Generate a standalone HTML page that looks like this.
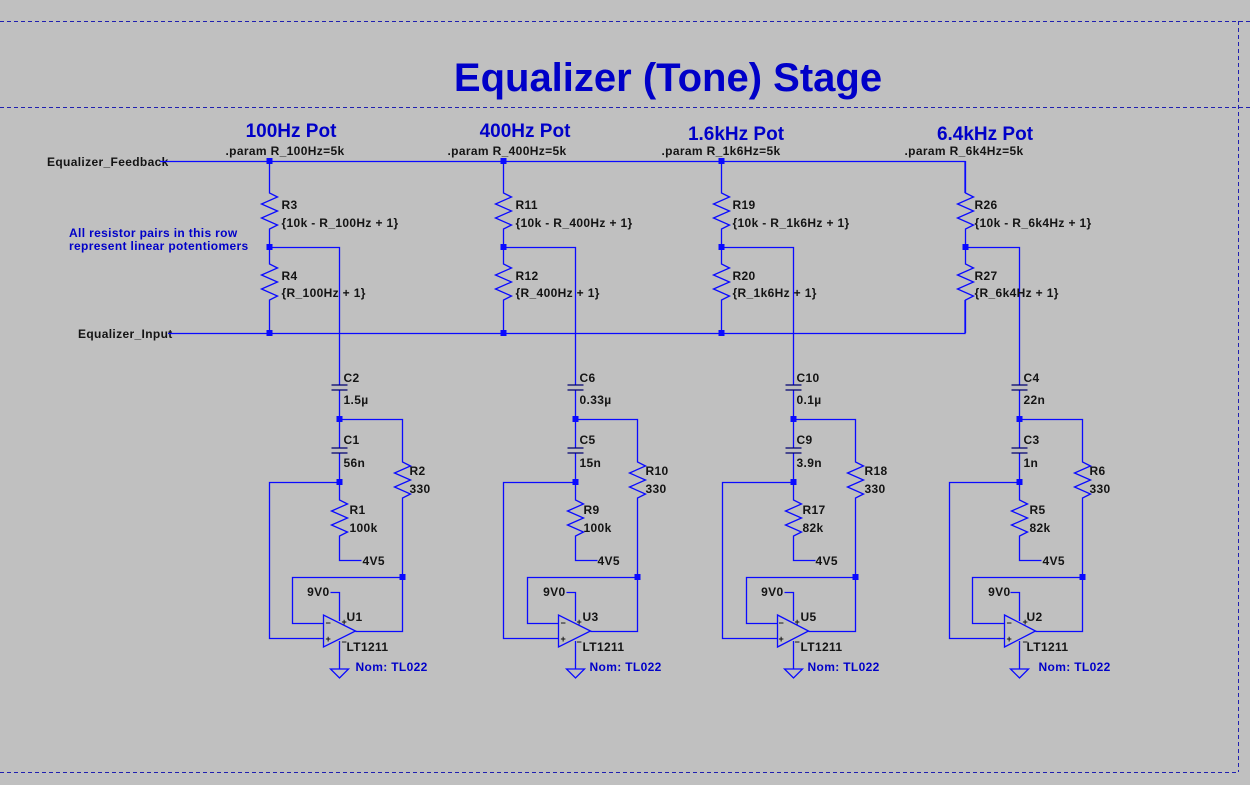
<!DOCTYPE html>
<html><head><meta charset="utf-8"><style>
html,body{margin:0;padding:0;background:#c0c0c0}
svg{display:block}
text{font-family:"Liberation Sans",sans-serif;font-weight:bold;font-size:12px;letter-spacing:0.35px;fill:#141414}
.b{fill:#0000c8}
.w{stroke:#0a0aff;stroke-width:1.3;fill:none}
.d{fill:#0a0aff}
.c{stroke:#000070;stroke-width:1.3;fill:none}
.dash{stroke:#2020b0;stroke-width:1;stroke-dasharray:4,3;fill:none}
.t{font-size:19px;letter-spacing:0}
</style></head><body>
<svg width="1250" height="785" viewBox="0 0 1250 785" xmlns="http://www.w3.org/2000/svg">
<rect width="1250" height="785" fill="#c0c0c0"/>
<path class="dash" d="M0 21.5H1250M0 107.5H1250M1238.5 21V772M0 772.5H1238"/>
<text x="668" y="91" text-anchor="middle" class="b" style="font-size:40px;letter-spacing:0">Equalizer (Tone) Stage</text>
<text x="47" y="166">Equalizer_Feedback</text>
<text x="78" y="338">Equalizer_Input</text>
<text x="69" y="237" class="b">All resistor pairs in this row</text>
<text x="69" y="250" class="b">represent linear potentiomers</text>
<path class="w" d="M160 161.5H965V193M168 333.5H965V300"/>

<text x="291" y="137" text-anchor="middle" class="b t">100Hz Pot</text>
<text x="285" y="155" text-anchor="middle">.param R_100Hz=5k</text>
<text x="525" y="137" text-anchor="middle" class="b t">400Hz Pot</text>
<text x="507" y="155" text-anchor="middle">.param R_400Hz=5k</text>
<text x="736" y="140" text-anchor="middle" class="b t">1.6kHz Pot</text>
<text x="721" y="155" text-anchor="middle">.param R_1k6Hz=5k</text>
<text x="985" y="140" text-anchor="middle" class="b t">6.4kHz Pot</text>
<text x="964" y="155" text-anchor="middle">.param R_6k4Hz=5k</text>

<g transform="translate(339.5,0)">
<path class="w" d="M-70 161V193l8 4-16 7 16 7-16 7 16 7-8 4V264l8 4-16 7 16 7-16 7 16 7-8 4V333M-70 247.5H0V385M0 390V448M0 453V500l8 4-16 7 16 7-16 7 16 7-8 4V560.5H22M0 419.5H63V462l8 4-16 7 16 7-16 7 16 7-8 4V631.5H16M0 482.5H-70V638.5H-16M63 577.5H-47V623.5H-16M-9 592.5H0V621M0 641V669"/>
<path class="c" d="M-8 385H8M-8 390H8M-8 448H8M-8 453H8"/>
<path class="w" d="M-16 615L-16 647L16 631Z M-9 669H9L0 678Z"/>
<rect class="d" x="-73" y="158" width="6" height="6"/><rect class="d" x="-73" y="244" width="6" height="6"/><rect class="d" x="-73" y="330" width="6" height="6"/>
<rect class="d" x="-3" y="416" width="6" height="6"/><rect class="d" x="-3" y="479" width="6" height="6"/><rect class="d" x="60" y="574" width="6" height="6"/>
<text x="-58" y="209">R3</text><text x="-58" y="227">{10k - R_100Hz + 1}</text>
<text x="-58" y="280">R4</text><text x="-58" y="297">{R_100Hz + 1}</text>
<text x="4" y="382">C2</text><text x="4" y="404">1.5µ</text>
<text x="4" y="444">C1</text><text x="4" y="467">56n</text>
<text x="70" y="475">R2</text><text x="70" y="493">330</text>
<text x="10" y="514">R1</text><text x="10" y="532">100k</text>
<text x="23" y="565">4V5</text>
<text x="-10" y="596" text-anchor="end">9V0</text>
<text x="7" y="621">U1</text><text x="7" y="651">LT1211</text>
<text x="16" y="671" class="b">Nom: TL022</text>
<text x="-14" y="626" style="font-size:9px">−</text><text x="2" y="625" style="font-size:9px">+</text>
<text x="-14" y="642" style="font-size:9px">+</text><text x="2" y="645" style="font-size:9px">−</text>
</g>

<g transform="translate(575.5,0)">
<path class="w" d="M-72 161V193l8 4-16 7 16 7-16 7 16 7-8 4V264l8 4-16 7 16 7-16 7 16 7-8 4V333M-72 247.5H0V385M0 390V448M0 453V500l8 4-16 7 16 7-16 7 16 7-8 4V560.5H22M0 419.5H62V462l8 4-16 7 16 7-16 7 16 7-8 4V631.5H15M0 482.5H-72V638.5H-17M62 577.5H-48V623.5H-17M-9 592.5H0V621M0 641V669"/>
<path class="c" d="M-8 385H8M-8 390H8M-8 448H8M-8 453H8"/>
<path class="w" d="M-17 615L-17 647L15 631Z M-9 669H9L0 678Z"/>
<rect class="d" x="-75" y="158" width="6" height="6"/><rect class="d" x="-75" y="244" width="6" height="6"/><rect class="d" x="-75" y="330" width="6" height="6"/>
<rect class="d" x="-3" y="416" width="6" height="6"/><rect class="d" x="-3" y="479" width="6" height="6"/><rect class="d" x="59" y="574" width="6" height="6"/>
<text x="-60" y="209">R11</text><text x="-60" y="227">{10k - R_400Hz + 1}</text>
<text x="-60" y="280">R12</text><text x="-60" y="297">{R_400Hz + 1}</text>
<text x="4" y="382">C6</text><text x="4" y="404">0.33µ</text>
<text x="4" y="444">C5</text><text x="4" y="467">15n</text>
<text x="70" y="475">R10</text><text x="70" y="493">330</text>
<text x="8" y="514">R9</text><text x="8" y="532">100k</text>
<text x="22" y="565">4V5</text>
<text x="-10" y="596" text-anchor="end">9V0</text>
<text x="7" y="621">U3</text><text x="7" y="651">LT1211</text>
<text x="14" y="671" class="b">Nom: TL022</text>
<text x="-15" y="626" style="font-size:9px">−</text><text x="1" y="625" style="font-size:9px">+</text>
<text x="-15" y="642" style="font-size:9px">+</text><text x="1" y="645" style="font-size:9px">−</text>
</g>

<g transform="translate(793.5,0)">
<path class="w" d="M-72 161V193l8 4-16 7 16 7-16 7 16 7-8 4V264l8 4-16 7 16 7-16 7 16 7-8 4V333M-72 247.5H0V385M0 390V448M0 453V500l8 4-16 7 16 7-16 7 16 7-8 4V560.5H22M0 419.5H62V462l8 4-16 7 16 7-16 7 16 7-8 4V631.5H15M0 482.5H-71V638.5H-16M62 577.5H-47V623.5H-16M-9 592.5H0V621M0 641V669"/>
<path class="c" d="M-8 385H8M-8 390H8M-8 448H8M-8 453H8"/>
<path class="w" d="M-16 615L-16 647L15 631Z M-9 669H9L0 678Z"/>
<rect class="d" x="-75" y="158" width="6" height="6"/><rect class="d" x="-75" y="244" width="6" height="6"/><rect class="d" x="-75" y="330" width="6" height="6"/>
<rect class="d" x="-3" y="416" width="6" height="6"/><rect class="d" x="-3" y="479" width="6" height="6"/><rect class="d" x="59" y="574" width="6" height="6"/>
<text x="-61" y="209">R19</text><text x="-61" y="227">{10k - R_1k6Hz + 1}</text>
<text x="-61" y="280">R20</text><text x="-61" y="297">{R_1k6Hz + 1}</text>
<text x="3" y="382">C10</text><text x="3" y="404">0.1µ</text>
<text x="3" y="444">C9</text><text x="3" y="467">3.9n</text>
<text x="71" y="475">R18</text><text x="71" y="493">330</text>
<text x="9" y="514">R17</text><text x="9" y="532">82k</text>
<text x="22" y="565">4V5</text>
<text x="-10" y="596" text-anchor="end">9V0</text>
<text x="7" y="621">U5</text><text x="7" y="651">LT1211</text>
<text x="14" y="671" class="b">Nom: TL022</text>
<text x="-15" y="626" style="font-size:9px">−</text><text x="1" y="625" style="font-size:9px">+</text>
<text x="-15" y="642" style="font-size:9px">+</text><text x="1" y="645" style="font-size:9px">−</text>
</g>

<g transform="translate(1019.5,0)">
<path class="w" d="M-54 161V193l8 4-16 7 16 7-16 7 16 7-8 4V264l8 4-16 7 16 7-16 7 16 7-8 4V333M-54 247.5H0V385M0 390V448M0 453V500l8 4-16 7 16 7-16 7 16 7-8 4V560.5H22M0 419.5H63V462l8 4-16 7 16 7-16 7 16 7-8 4V631.5H16M0 482.5H-70V638.5H-15M63 577.5H-47V623.5H-15M-9 592.5H0V621M0 641V669"/>
<path class="c" d="M-8 385H8M-8 390H8M-8 448H8M-8 453H8"/>
<path class="w" d="M-15 615L-15 647L16 631Z M-9 669H9L0 678Z"/>
<rect class="d" x="-57" y="244" width="6" height="6"/>
<rect class="d" x="-3" y="416" width="6" height="6"/><rect class="d" x="-3" y="479" width="6" height="6"/><rect class="d" x="60" y="574" width="6" height="6"/>
<text x="-45" y="209">R26</text><text x="-45" y="227">{10k - R_6k4Hz + 1}</text>
<text x="-45" y="280">R27</text><text x="-45" y="297">{R_6k4Hz + 1}</text>
<text x="4" y="382">C4</text><text x="4" y="404">22n</text>
<text x="4" y="444">C3</text><text x="4" y="467">1n</text>
<text x="70" y="475">R6</text><text x="70" y="493">330</text>
<text x="10" y="514">R5</text><text x="10" y="532">82k</text>
<text x="23" y="565">4V5</text>
<text x="-9" y="596" text-anchor="end">9V0</text>
<text x="7" y="621">U2</text><text x="7" y="651">LT1211</text>
<text x="19" y="671" class="b">Nom: TL022</text>
<text x="-13" y="626" style="font-size:9px">−</text><text x="3" y="625" style="font-size:9px">+</text>
<text x="-13" y="642" style="font-size:9px">+</text><text x="3" y="645" style="font-size:9px">−</text>
</g>
</svg>
</body></html>
